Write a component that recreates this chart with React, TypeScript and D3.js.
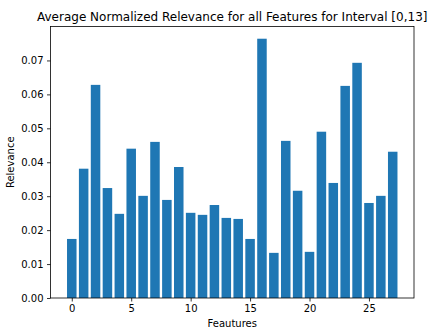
import React, { useRef, useEffect } from 'react';
import * as d3 from 'd3';

const features = d3.range(28);
const relevance = [
  0.0174, 0.0381, 0.0628, 0.0324, 0.0248, 0.044, 0.0301, 0.046, 0.0289, 0.0386,
  0.0251, 0.0245, 0.0274, 0.0236, 0.0233, 0.0174, 0.0764, 0.0133, 0.0463, 0.0316,
  0.0136, 0.049, 0.0339, 0.0625, 0.0693, 0.028, 0.0301, 0.0431,
];
const xTicks = [0, 5, 10, 15, 20, 25];
const yTicks = [0, 0.01, 0.02, 0.03, 0.04, 0.05, 0.06, 0.07];

const App = () => {
  const svgRef = useRef<SVGSVGElement>(null);

  useEffect(() => {
    const width = 433;
    const height = 330;
    const margin = { top: 26.5, right: 19, bottom: 32, left: 50.5 };

    const x = d3.scaleLinear()
      .domain([-1.79, 28.79])
      .range([margin.left, width - margin.right]);

    const y = d3.scaleLinear()
      .domain([0, 0.08])
      .range([height - margin.bottom, margin.top]);

    const svg = d3.select(svgRef.current)
      .attr('width', width)
      .attr('height', height);

    svg.selectAll('*').remove();

    const bw = x(0.8) - x(0);

    // Bars
    svg.append('g')
      .selectAll('rect')
      .data(features)
      .enter()
      .append('rect')
      .attr('x', d => x(d - 0.4))
      .attr('y', d => y(relevance[d]))
      .attr('width', bw)
      .attr('height', d => y(0) - y(relevance[d]))
      .attr('fill', '#1f77b4');

    // X axis
    const xAxis = svg.append('g')
      .attr('transform', `translate(0,${height - margin.bottom})`)
      .call(d3.axisBottom(x).tickValues(xTicks).tickFormat(d3.format('d')).tickSize(3.5).tickPadding(3.5));

    // Y axis
    const yAxis = svg.append('g')
      .attr('transform', `translate(${margin.left},0)`)
      .call(d3.axisLeft(y).tickValues(yTicks).tickFormat(d3.format('.2f')).tickSize(3.5).tickPadding(3.5));

    [xAxis, yAxis].forEach(a => {
      a.select('.domain').remove();
      a.selectAll('text')
        .attr('font-family', 'DejaVu Sans')
        .attr('font-size', 10)
        .attr('fill', '#000');
      a.selectAll('line').attr('stroke', '#000').attr('stroke-width', 0.8);
    });

    // Frame
    svg.append('rect')
      .attr('x', margin.left)
      .attr('y', margin.top)
      .attr('width', width - margin.left - margin.right)
      .attr('height', height - margin.top - margin.bottom)
      .attr('fill', 'none')
      .attr('stroke', '#000')
      .attr('stroke-width', 0.8);

    // Title
    svg.append('text')
      .attr('x', (margin.left + width - margin.right) / 2)
      .attr('y', 21)
      .attr('text-anchor', 'middle')
      .attr('font-family', 'DejaVu Sans')
      .attr('font-size', 12)
      .text('Average Normalized Relevance for all Features for Interval [0,13]');

    // Axis labels
    svg.append('text')
      .attr('x', (margin.left + width - margin.right) / 2)
      .attr('y', 327)
      .attr('text-anchor', 'middle')
      .attr('font-family', 'DejaVu Sans')
      .attr('font-size', 10)
      .text('Feautures');

    svg.append('text')
      .attr('transform', `translate(14,${(margin.top + height - margin.bottom) / 2}) rotate(-90)`)
      .attr('text-anchor', 'middle')
      .attr('font-family', 'DejaVu Sans')
      .attr('font-size', 10)
      .text('Relevance');
  }, []);

  return (
    <div style={{ position: 'absolute', left: 0, top: 0 }}>
      <svg ref={svgRef}></svg>
    </div>
  );
};

export default App;
